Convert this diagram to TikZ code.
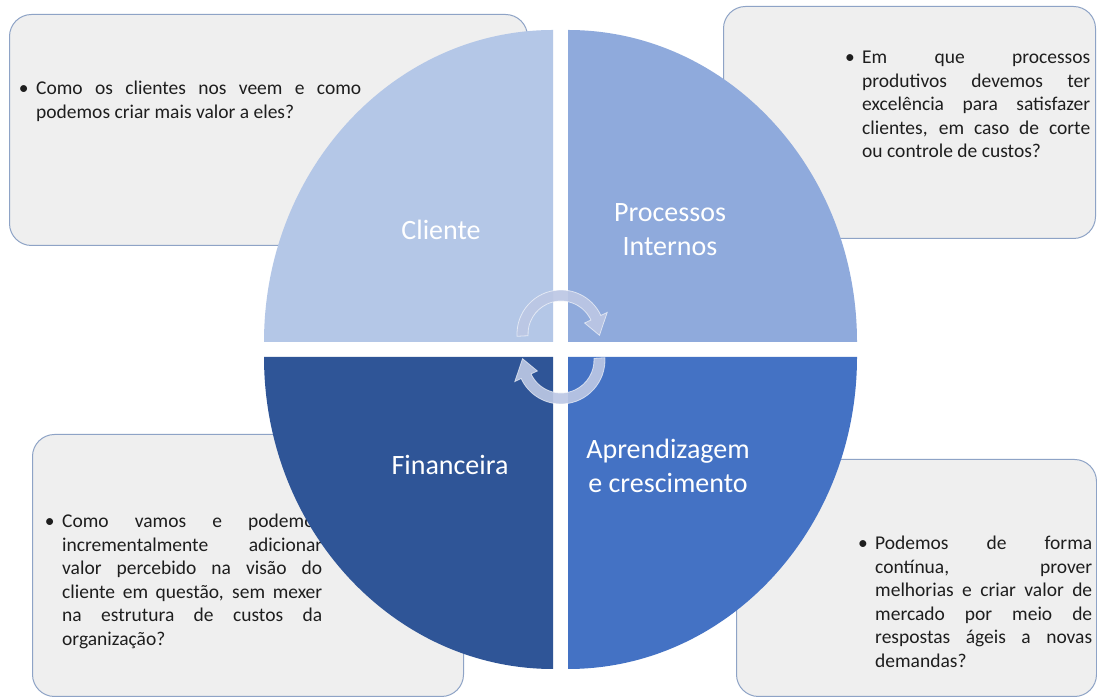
\documentclass[tikz,border=0pt]{standalone}
\usepackage{fontspec}
\setmainfont{Carlito}
\usetikzlibrary{positioning, calc}
\definecolor{QuadCliente}{HTML}{B4C7E7}
\definecolor{QuadProcessos}{HTML}{8FAADC}
\definecolor{QuadFinanceira}{HTML}{2F5597}
\definecolor{QuadAprendizagem}{HTML}{4472C4}
\definecolor{BoxGray}{HTML}{EFEFEF}
\definecolor{BoxEdge}{HTML}{8EA3C6}
\definecolor{TextGray}{HTML}{1E1E1E}
\definecolor{CycleBlue}{HTML}{BCC7E4}
\newcommand{\qbullet}{\tolerance=10000\relax\noindent\llap{•\hspace{7.5pt}}}
\tikzset{
  infobox/.style={draw=BoxEdge, fill=BoxGray, rounded corners=22pt,
                  line width=1pt, anchor=south west, inner sep=0pt},
  bullettext/.style={anchor=north west, inner sep=0pt, text width=#1,
                     align=justify, text=TextGray,
                     font=\fontsize{19.5}{23.5}\selectfont},
  quadlabel/.style={text=white, align=center, font=\fontsize{28}{34}\selectfont},
  cyclearrow/.style={fill=CycleBlue, fill opacity=0.92, draw=white,
                     draw opacity=0.6, line width=0.8pt}
}

\begin{document}
\begin{tikzpicture}[x=1pt, y=1pt]
\useasboundingbox (0,0) rectangle (1097,698);
\fill[white] (0,0) rectangle (1097,698);

% question boxes (behind the wheel)
\node[infobox, minimum width=518pt, minimum height=231pt] (boxcliente) at (9,452) {};
\node[infobox, minimum width=372pt, minimum height=232pt] (boxprocessos) at (723,459) {};
\node[infobox, minimum width=431pt, minimum height=262pt] (boxfinanceira) at (32,1) {};
\node[infobox, minimum width=360pt, minimum height=237pt] (boxaprendizagem) at (736,1) {};

\node[bullettext=325pt] (txtcliente) at (36,617)
  {\qbullet Como os clientes nos veem e como\linebreak
   podemos criar mais valor a eles?};
\node[bullettext=228pt] (txtprocessos) at (862,647)
  {\qbullet Em que processos\linebreak
   produtivos devemos ter\linebreak
   excelência para satisfazer\linebreak
   clientes, em caso de corte\linebreak
   ou controle de custos?};
\node[bullettext=260pt] (txtfinanceira) at (62,184)
  {\qbullet Como vamos e podemos\linebreak
   incrementalmente adicionar\linebreak
   valor percebido na visão do\linebreak
   cliente em questão, sem mexer\linebreak
   na estrutura de custos da\linebreak
   organização?};
\node[bullettext=217pt] (txtaprendizagem) at (875,162)
  {\qbullet Podemos de forma\linebreak
   contínua, prover\linebreak
   melhorias e criar valor de\linebreak
   mercado por meio de\linebreak
   respostas ágeis a novas\linebreak
   demandas?};

% the four quarters
\fill[QuadCliente] (553,356) -- (264,356)
  arc[start angle=180, end angle=90, x radius=289, y radius=312] -- cycle;
\fill[QuadProcessos] (568,356) -- (568,668)
  arc[start angle=90, end angle=0, x radius=289, y radius=312] -- cycle;
\fill[QuadFinanceira] (553,341) -- (553,29)
  arc[start angle=270, end angle=180, x radius=289, y radius=312] -- cycle;
\fill[QuadAprendizagem] (568,341) -- (857,341)
  arc[start angle=0, end angle=-90, x radius=289, y radius=312] -- cycle;

\node[quadlabel] (cliente) at (441,468) {Cliente};
\node[quadlabel] (processos) at (670,468) {Processos\\Internos};
\node[quadlabel] (financeira) at (450,233) {Financeira};
\node[quadlabel] (aprendizagem) at (668,232) {Aprendizagem\\e crescimento};

% cycle arrows in the middle
\begin{scope}[shift={(561,364)}]
  \filldraw[cyclearrow] (183:44) arc[start angle=183, end angle=25, radius=44]
    -- (25:51) -- (-2:38.5) -- (25:26) -- (25:33)
    arc[start angle=25, end angle=183, radius=33] -- cycle;
\end{scope}
\begin{scope}[shift={(561,338)}]
  \filldraw[cyclearrow] (3:44) arc[start angle=3, end angle=-155, radius=44]
    -- (-155:51) -- (-182:38.5) -- (-155:26) -- (-155:33)
    arc[start angle=-155, end angle=3, radius=33] -- cycle;
\end{scope}
\end{tikzpicture}
\end{document}
